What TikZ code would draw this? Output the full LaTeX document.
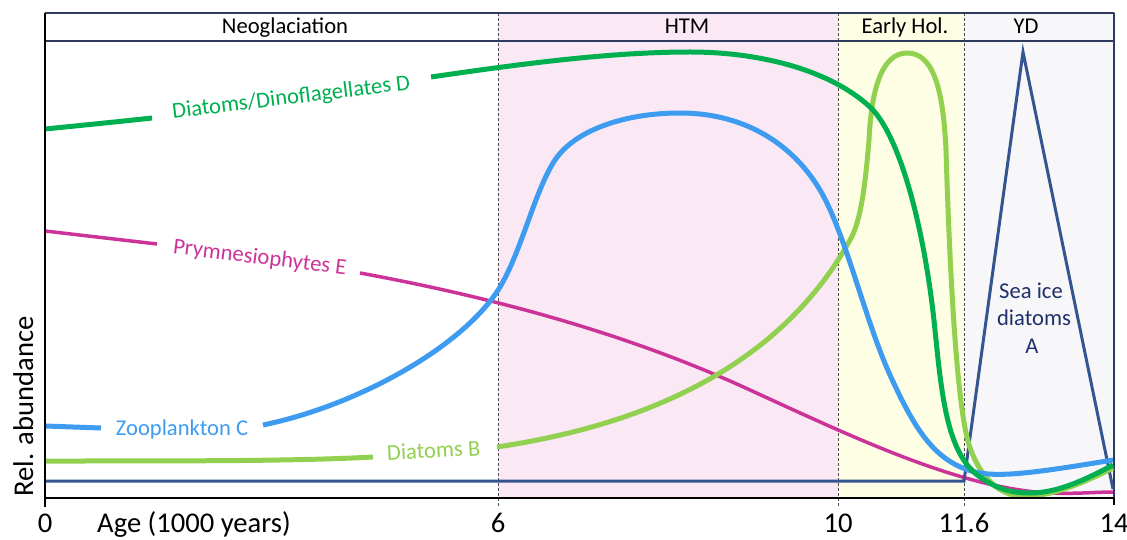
\documentclass[tikz,border=0pt]{standalone}
\usepackage{fontspec}
\setmainfont{Carlito}
\definecolor{dgreen}{HTML}{00B050}
\definecolor{lgreen}{HTML}{92D050}
\definecolor{zblue}{HTML}{3D9BF0}
\definecolor{pmag}{HTML}{CC3399}
\definecolor{navyA}{HTML}{34558F}
\definecolor{navyT}{HTML}{1F2F6B}
\definecolor{framec}{HTML}{2F3B5C}
\definecolor{pinkbg}{HTML}{FAE8F5}
\definecolor{yellowbg}{HTML}{FEFEE5}
\definecolor{graybg}{HTML}{F7F7F9}
\begin{document}
\begin{tikzpicture}[x=1pt,y=-1pt,line join=round,
  lbl/.style={font=\fontsize{22.6}{26}\selectfont, inner sep=0pt, anchor=base},
  ax/.style={font=\fontsize{28.6}{32}\selectfont, inner sep=0pt, anchor=base},
  curveD/.style={draw=dgreen, line width=5pt},
  curveB/.style={draw=lgreen, line width=5pt},
  curveC/.style={draw=zblue, line width=5pt},
  curveE/.style={draw=pmag, line width=3.5pt},
  curveA/.style={draw=navyA, line width=3pt, line join=miter},
  divider/.style={draw=black!70, line width=0.9pt, dash pattern=on 3pt off 2pt}]
\useasboundingbox (0,0) rectangle (1127,540);
% backgrounds
\fill[pinkbg] (498,13) rectangle (838,498);
\fill[yellowbg] (838,13) rectangle (964,498);
\fill[graybg] (964,13) rectangle (1114,498);
% dividers
\draw[divider] (498,13) -- (498,507);
\draw[divider] (838,13) -- (838,507);
\draw[divider] (964,13) -- (964,507);
% frame
\draw[framec, line width=1.5pt] (45,13) -- (1114,13) -- (1114,498);
\draw[framec, line width=1.5pt] (45,41) -- (1114,41);
% header labels
\node[lbl, text=black] (hNeo) at (285,34) {Neoglaciation};
\node[lbl, text=black] (hHTM) at (687,34) {HTM};
\node[lbl, text=black] (hEH) at (905,34) {Early Hol.};
\node[lbl, text=black] (hYD) at (1026,34) {YD};
% curve E
\draw[curveE] (45,231) -- (157,244);
\draw[curveE] (360,273) .. controls (480,295) and (620,330) .. (750,390)
  .. controls (850,436) and (940,478) .. (1020,490)
  .. controls (1060,496) and (1090,492) .. (1113,492);
% curve A
\draw[curveA] (45,481) -- (964,481) -- (1023,52) -- (1113,489);
% curve B
\draw[curveB] (45,461) .. controls (200,461) and (300,461) .. (373,457);
\draw[curveB] (497,447) .. controls (610,430) and (770,385) .. (850,240)
  .. controls (862,220) and (866,175) .. (869,140)
  .. controls (871,95) and (880,53) .. (907,53)
  .. controls (932,53) and (943,85) .. (946,150)
  .. controls (949,250) and (955,380) .. (966,433)
  .. controls (972,462) and (990,494) .. (1020,496)
  .. controls (1050,498) and (1085,482) .. (1113,468);
% curve C
\draw[curveC] (45,426) -- (101,428);
\draw[curveC] (263,425) .. controls (360,405) and (465,345) .. (500,287)
  .. controls (522,250) and (535,190) .. (555,160)
  .. controls (575,130) and (625,113) .. (680,113)
  .. controls (740,113) and (790,140) .. (820,190)
  .. controls (845,232) and (865,320) .. (890,375)
  .. controls (915,430) and (935,462) .. (975,472)
  .. controls (1000,478) and (1040,472) .. (1113,460);
% curve D
\draw[curveD] (45,129) .. controls (80,125.5) and (120,121.5) .. (152,118);
\draw[curveD] (431,77) .. controls (520,64) and (610,52) .. (690,52)
  .. controls (760,52) and (830,70) .. (870,107)
  .. controls (900,135) and (925,230) .. (935,330)
  .. controls (942,400) and (948,455) .. (980,477)
  .. controls (1000,491) and (1015,493) .. (1030,493)
  .. controls (1060,493) and (1090,477) .. (1113,465);
% curve labels
\node[lbl, text=dgreen, rotate=7] (labD) at (292,104) {Diatoms/Dinoflagellates D};
\node[lbl, text=pmag, rotate=-7] (labE) at (259,264) {Prymnesiophytes E};
\node[lbl, text=zblue] (labC) at (182,435) {Zooplankton C};
\node[lbl, text=lgreen, rotate=3] (labB) at (434,458) {Diatoms B};
\node[lbl, text=navyT] (labA1) at (1031,298) {Sea ice};
\node[lbl, text=navyT] (labA2) at (1034,325) {diatoms};
\node[lbl, text=navyT] (labA3) at (1032,353) {A};
% axes
\draw[black, line width=2.5pt] (45,13) -- (45,507);
\draw[black, line width=2pt] (44,498) -- (1114,498) -- (1114,505);
\node[ax] (t0) at (45,532) {0};
\node[ax] (t6) at (498,532) {6};
\node[ax] (t10) at (838,532) {10};
\node[ax] (t116) at (964,532) {11.6};
\node[ax] (t14) at (1114,532) {14};
\node[ax, anchor=base west] (xlab) at (97,532) {Age (1000 years)};
\node[ax, anchor=base west, rotate=90] (ylab) at (33,497) {Rel. abundance};
\end{tikzpicture}
\end{document}
